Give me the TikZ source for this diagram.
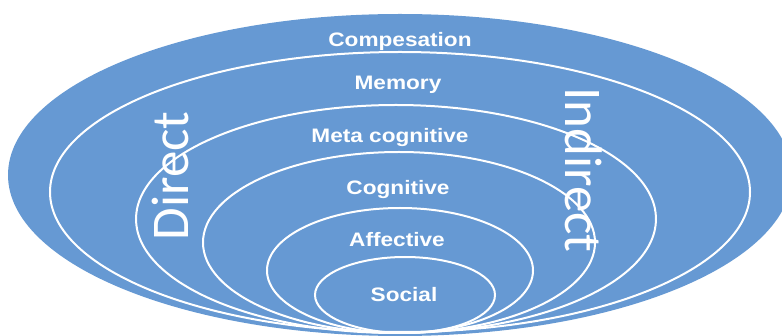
\documentclass[tikz,border=0pt]{standalone}
\usepackage{fontspec}
\setmainfont{Liberation Sans}
\newfontfamily\lblfont[FakeStretch=1.16]{Liberation Sans}
\newfontfamily\sidefont{Carlito}
\definecolor{ringblue}{RGB}{102,153,211}

\begin{document}
\begin{tikzpicture}[x=1pt, y=-1pt,
    ring/.style={draw=white, line width=2pt},
    lbl/.style={text=white, font=\lblfont\bfseries\fontsize{19.5}{20}\selectfont, inner sep=0pt, anchor=base},
    side/.style={text=white, font=\sidefont\fontsize{53}{53}\selectfont, inner sep=0pt}]
  \useasboundingbox (0,0) rectangle (782,336);
  \clip (0,0) rectangle (782,336);

  \fill[ringblue] (400,175) ellipse [x radius=392, y radius=161];
  \draw[ring] (400,192) ellipse [x radius=350, y radius=140];
  \draw[ring] (396,219) ellipse [x radius=260, y radius=114];
  \draw[ring] (399,242.5) ellipse [x radius=196, y radius=90.5];
  \draw[ring] (400,270.5) ellipse [x radius=133, y radius=62.5];
  \draw[ring] (405,295) ellipse [x radius=90, y radius=38];

  \node[lbl] (comp) at (400,47) {Compesation};
  \node[lbl] (memory) at (398,90) {Memory};
  \node[lbl] (meta) at (390,143) {Meta cognitive};
  \node[lbl] (cogn) at (398,195) {Cognitive};
  \node[lbl] (affect) at (397,247) {Affective};
  \node[lbl] (social) at (404,302) {Social};

  \node[side, rotate=90] (direct) at (170,176) {Direct};
  \node[side, rotate=-90] (indirect) at (584,170) {Indirect};
\end{tikzpicture}
\end{document}
